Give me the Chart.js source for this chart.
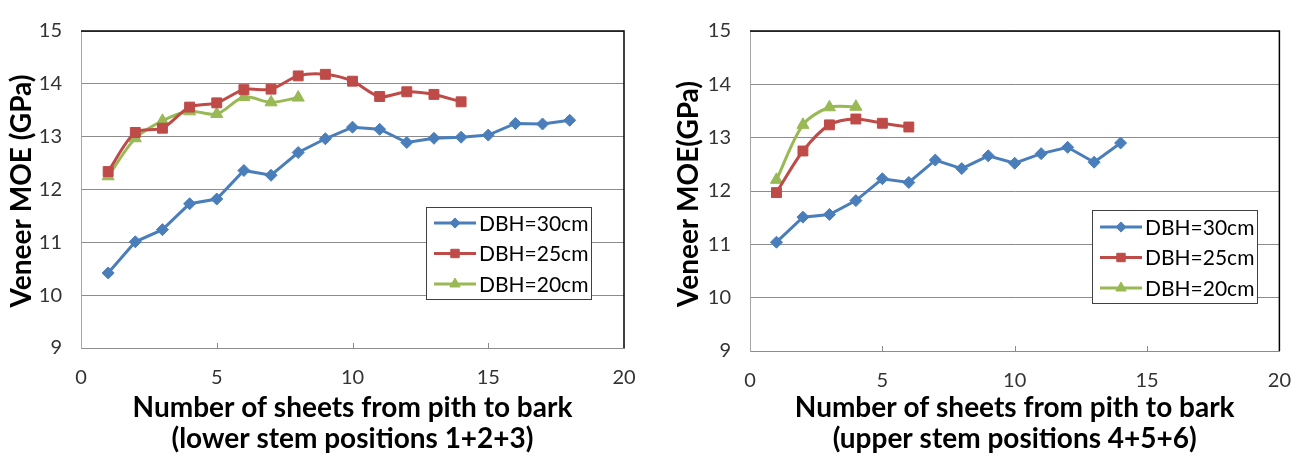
<!DOCTYPE html>
<html>
<head>
<meta charset="utf-8">
<script src="https://cdn.jsdelivr.net/npm/chart.js@4.4.0/dist/chart.umd.min.js"></script>
<style>
  html, body { margin: 0; padding: 0; background: #fff; }
  #wrap { position: relative; width: 1309px; height: 461px; }
  .box { position: absolute; top: 0; height: 461px; }
  #boxLower { left: 0; width: 655px; }
  #boxUpper { left: 655px; width: 654px; }
</style>
</head>
<body>
<div id="wrap">
  <div class="box" id="boxLower"><canvas id="lowerChart" width="655" height="461"></canvas></div>
  <div class="box" id="boxUpper"><canvas id="upperChart" width="654" height="461"></canvas></div>
</div>
<script>
// series names and axis ticks
const seriesNames = ['DBH=30cm', 'DBH=25cm', 'DBH=20cm'];
const xTickValues = [0, 5, 10, 15, 20];
const yTickValues = [9, 10, 11, 12, 13, 14, 15];

// lower stem positions 1+2+3
const lowerSheets30 = [1, 2, 3, 4, 5, 6, 7, 8, 9, 10, 11, 12, 13, 14, 15, 16, 17, 18];
const lowerMoe30 = [10.42, 11.01, 11.24, 11.73, 11.82, 12.36, 12.27, 12.70, 12.96, 13.18, 13.14, 12.89, 12.97, 12.99, 13.03, 13.25, 13.24, 13.31];
const lowerSheets25 = [1, 2, 3, 4, 5, 6, 7, 8, 9, 10, 11, 12, 13, 14];
const lowerMoe25 = [12.34, 13.08, 13.16, 13.56, 13.64, 13.89, 13.90, 14.15, 14.18, 14.05, 13.76, 13.85, 13.80, 13.66];
const lowerSheets20 = [1, 2, 3, 4, 5, 6, 7, 8];
const lowerMoe20 = [12.25, 12.97, 13.30, 13.48, 13.43, 13.75, 13.65, 13.74];

// upper stem positions 4+5+6
const upperSheets30 = [1, 2, 3, 4, 5, 6, 7, 8, 9, 10, 11, 12, 13, 14];
const upperMoe30 = [11.04, 11.51, 11.56, 11.82, 12.23, 12.16, 12.58, 12.42, 12.66, 12.52, 12.70, 12.82, 12.54, 12.90];
const upperSheets25 = [1, 2, 3, 4, 5, 6];
const upperMoe25 = [11.97, 12.75, 13.24, 13.35, 13.27, 13.20];
const upperSheets20 = [1, 2, 3, 4];
const upperMoe20 = [12.21, 13.24, 13.57, 13.58];

const FONT = 'Lato, Carlito, Calibri, "Open Sans", sans-serif';
const colors = ['#4A7EBB', '#BE4B48', '#98B954'];
const styles = [
    { pointStyle: 'rectRot', pointRadius: 6, tension: 0 },
    { pointStyle: 'rect', pointRadius: 7, tension: 0.3 },
    { pointStyle: 'triangle', pointRadius: 7, tension: 0.3 }
];

const toPoints = (xs, ys) => xs.map((x, i) => ({ x: x, y: ys[i] }));

function makeDatasets(groups) {
    return groups.map((g, i) => ({
        label: seriesNames[i],
        data: toPoints(g[0], g[1]),
        borderColor: colors[i],
        backgroundColor: colors[i],
        borderWidth: 3,
        pointStyle: styles[i].pointStyle,
        pointRadius: styles[i].pointRadius,
        pointBorderWidth: 1,
        tension: styles[i].tension
    }));
}

// frame, inward x ticks, y title and a boxed legend inside the plot
const frameAndLegend = {
    id: 'frameAndLegend',
    afterDatasetsDraw(chart, args, opts) {
        const { ctx, chartArea: a } = chart;
        const xs = chart.scales.x;
        ctx.save();

        ctx.strokeStyle = '#8c8c8c';
        ctx.lineWidth = 1;
        [5, 10, 15].forEach(v => {
            const px = Math.round(xs.getPixelForValue(v)) + 0.5;
            ctx.beginPath();
            ctx.moveTo(px, a.bottom);
            ctx.lineTo(px, a.bottom - 5);
            ctx.stroke();
        });

        ctx.strokeStyle = '#000';
        ctx.lineWidth = 1.5;
        ctx.beginPath();
        ctx.moveTo(a.left, a.top);
        ctx.lineTo(a.right, a.top);
        ctx.lineTo(a.right, a.bottom);
        ctx.stroke();

        // rotated y axis title
        const yt = opts.yTitle;
        ctx.save();
        ctx.translate(yt.x, yt.y);
        ctx.rotate(-Math.PI / 2);
        ctx.fillStyle = '#000';
        ctx.font = 'bold 28px ' + FONT;
        ctx.textAlign = 'center';
        ctx.textBaseline = 'middle';
        ctx.fillText(yt.text, 0, 0);
        ctx.restore();

        const lg = opts.legend;
        ctx.fillStyle = '#fff';
        ctx.fillRect(lg.left, lg.top, lg.width, lg.height);
        ctx.strokeStyle = '#404040';
        ctx.lineWidth = 1;
        ctx.strokeRect(lg.left + 0.5, lg.top + 0.5, lg.width, lg.height);

        chart.data.datasets.forEach((ds, i) => {
            const y = lg.top + lg.firstRow + i * lg.rowGap;
            ctx.strokeStyle = ds.borderColor;
            ctx.lineWidth = 3;
            ctx.beginPath();
            ctx.moveTo(lg.left + 8, y);
            ctx.lineTo(lg.left + 50, y);
            ctx.stroke();
            ctx.fillStyle = ds.backgroundColor;
            ctx.lineWidth = 1;
            Chart.helpers.drawPoint(ctx, {
                pointStyle: ds.pointStyle,
                radius: ds.pointRadius * 0.85,
                borderWidth: 1,
                rotation: 0
            }, lg.left + 29, y);
            ctx.fillStyle = '#000';
            ctx.font = '21px ' + FONT;
            ctx.textBaseline = 'middle';
            ctx.textAlign = 'left';
            ctx.fillText(ds.label, lg.left + 53, y + 1);
        });
        ctx.restore();
    }
};

function buildChart(canvasId, groups, cfg) {
    return new Chart(document.getElementById(canvasId), {
        type: 'line',
        data: { datasets: makeDatasets(groups) },
        plugins: [frameAndLegend],
        options: {
            responsive: false,
            animation: false,
            layout: { padding: { top: 20, right: cfg.padRight, left: 0, bottom: 0 } },
            plugins: {
                legend: { display: false },
                tooltip: { enabled: false },
                frameAndLegend: { legend: cfg.legend, yTitle: cfg.yTitle }
            },
            scales: {
                x: {
                    type: 'linear',
                    min: 0,
                    max: 20,
                    afterBuildTicks: s => { s.ticks = xTickValues.map(v => ({ value: v })); },
                    afterFit: s => { s.height = cfg.xHeight; },
                    grid: { display: false, drawTicks: false },
                    border: { display: true, color: '#8c8c8c', width: 1 },
                    ticks: { padding: 18, color: '#333', font: { family: FONT, size: 20 } },
                    title: {
                        display: true,
                        text: ['Number of sheets from pith to bark', cfg.xTitle2],
                        color: '#000',
                        font: { family: FONT, size: 28, weight: 'bold', lineHeight: 1.11 },
                        padding: { top: 0, bottom: 6 }
                    }
                },
                y: {
                    min: 9,
                    max: 15,
                    afterBuildTicks: s => { s.ticks = yTickValues.map(v => ({ value: v })); },
                    afterFit: s => { s.width = cfg.yWidth; },
                    grid: { color: '#8c8c8c', lineWidth: 1, drawTicks: false },
                    border: { display: true, color: '#a6a6a6', width: 1 },
                    ticks: { padding: 19, color: '#333', font: { family: FONT, size: 20 } }
                }
            }
        }
    });
}

buildChart('lowerChart', [
    [lowerSheets30, lowerMoe30],
    [lowerSheets25, lowerMoe25],
    [lowerSheets20, lowerMoe20]
], {
    padRight: 31, xHeight: 113, yWidth: 81,
    yTitle: { text: 'Veneer MOE (GPa)', x: 22, y: 191 },
    xTitle2: '(lower stem positions 1+2+3)',
    legend: { left: 426, top: 207, width: 165, height: 92, firstRow: 16, rowGap: 30.5 }
});

buildChart('upperChart', [
    [upperSheets30, upperMoe30],
    [upperSheets25, upperMoe25],
    [upperSheets20, upperMoe20]
], {
    padRight: 21, xHeight: 110, yWidth: 95,
    yTitle: { text: 'Veneer MOE(GPa)', x: 34, y: 194 },
    xTitle2: '(upper stem positions 4+5+6)',
    legend: { left: 437, top: 210, width: 165, height: 93, firstRow: 17, rowGap: 30.5 }
});
</script>
</body>
</html>
